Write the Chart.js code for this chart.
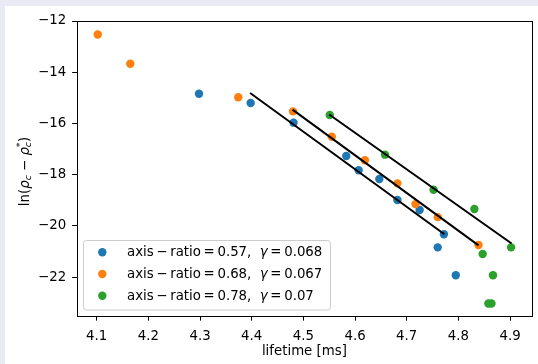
<!DOCTYPE html>
<html>
<head>
<meta charset="utf-8">
<script src="https://cdn.jsdelivr.net/npm/chart.js@4.4.0/dist/chart.umd.min.js"></script>
<style>
  html, body { margin: 0; padding: 0; background: #eaeaf5; width: 538px; height: 364px; overflow: hidden; }
  #wrap { position: absolute; left: 5px; top: 6px; width: 533px; height: 358px; background: #ffffff; }
  canvas { display: block; }
</style>
</head>
<body>
<div id="wrap"><canvas id="c" width="533" height="358"></canvas></div>
<script>
// ---- data ----
const xTicks = [4.1, 4.2, 4.3, 4.4, 4.5, 4.6, 4.7, 4.8, 4.9];
const yTicks = [-12, -14, -16, -18, -20, -22];

const seriesLabels = [
  'axis\u2009\u2212\u2009ratio\u2009=\u20090.57,  \u03B3\u2009=\u20090.068',
  'axis\u2009\u2212\u2009ratio\u2009=\u20090.68,  \u03B3\u2009=\u20090.067',
  'axis\u2009\u2212\u2009ratio\u2009=\u20090.78,  \u03B3\u2009=\u20090.07'
];
const seriesColors = ['#1f77b4', '#ff7f0e', '#2ca02c'];

const blueX = [4.298, 4.398, 4.481, 4.583, 4.607, 4.647, 4.682, 4.725, 4.772, 4.760, 4.795];
const blueY = [-14.84, -15.20, -15.97, -17.27, -17.83, -18.17, -18.99, -19.38, -20.33, -20.84, -21.93];

const orangeX = [4.102, 4.165, 4.374, 4.480, 4.555, 4.619, 4.682, 4.717, 4.760, 4.839];
const orangeY = [-12.53, -13.67, -14.98, -15.53, -16.52, -17.44, -18.34, -19.15, -19.66, -20.75];

const greenX = [4.551, 4.658, 4.752, 4.831, 4.902, 4.847, 4.867, 4.858, 4.864];
const greenY = [-15.67, -17.22, -18.59, -19.34, -20.84, -21.10, -21.93, -23.03, -23.03];

// fitted straight lines (start and end points)
const blueFitX = [4.397, 4.773];
const blueFitY = [-14.81, -20.33];
const orangeFitX = [4.479, 4.839];
const orangeFitY = [-15.46, -20.76];
const greenFitX = [4.550, 4.903];
const greenFitY = [-15.65, -20.69];

const xRange = [4.0615, 4.9425];
const yRange = [-23.52, -12];

// ---- build datasets ----
const pts = (xs, ys) => xs.map((x, i) => ({ x: x, y: ys[i] }));
const scatterSet = (i, xs, ys, order) => ({
  type: 'scatter', label: seriesLabels[i], data: pts(xs, ys),
  backgroundColor: seriesColors[i], borderWidth: 0, pointRadius: 4.2, pointHoverRadius: 4.2, order: order
});
const fitSet = (xs, ys) => ({
  type: 'line', label: '', data: pts(xs, ys), borderColor: '#000000', borderWidth: 2,
  pointRadius: 0, fill: false, order: 0, isFit: true
});

const FONT = 'DejaVu Sans';
const FS = 13.33;
const minus = v => (v < 0 ? '\u2212' + Math.abs(v) : String(v));

const frameAndText = {
  id: 'frameAndText',
  afterDraw(chart) {
    const ctx = chart.ctx, ca = chart.chartArea;
    ctx.save();
    // frame (all four spines)
    ctx.strokeStyle = '#000';
    ctx.lineWidth = 1;
    ctx.strokeRect(Math.round(ca.left) + 0.5, Math.round(ca.top) + 0.5,
                   Math.round(ca.right - ca.left), Math.round(ca.bottom - ca.top));

    // y axis title: ln(rho_c - rho_c^*)
    const big = FS + 'px "' + FONT + '"';
    const bigI = 'italic ' + FS + 'px "' + FONT + '"';
    const small = (FS * 0.7) + 'px "' + FONT + '"';
    const smallI = 'italic ' + (FS * 0.7) + 'px "' + FONT + '"';
    const segs = [
      { t: 'ln(', f: big, dy: 0 },
      { t: '\u03C1', f: bigI, dy: 0 },
      { t: 'c', f: smallI, dy: 2.4 },
      { t: ' \u2212 ', f: big, dy: 0 },
      { t: '\u03C1', f: bigI, dy: 0 },
      { t: 'c', f: smallI, dy: 2.4, stack: { t: '*', f: small, dy: -6 } },
      { t: ')', f: big, dy: 0 }
    ];
    let total = 0;
    segs.forEach(s => {
      ctx.font = s.f; s.w = ctx.measureText(s.t).width;
      if (s.stack) { ctx.font = s.stack.f; s.w = Math.max(s.w, ctx.measureText(s.stack.t).width); }
      total += s.w;
    });
    ctx.translate(18.8, (ca.top + ca.bottom) / 2 + 3);
    ctx.rotate(-Math.PI / 2);
    ctx.fillStyle = '#000';
    ctx.textBaseline = 'alphabetic';
    ctx.textAlign = 'left';
    let x = -total / 2;
    segs.forEach(s => {
      ctx.font = s.f; ctx.fillText(s.t, x, 4.8 + s.dy);
      if (s.stack) { ctx.font = s.stack.f; ctx.fillText(s.stack.t, x, 4.8 + s.stack.dy); }
      x += s.w;
    });
    ctx.restore();

    // legend box (lower left, inside plot)
    ctx.save();
    const bx = 78.5, by = 234.5, bw = 247, bh = 69.5, r = 3;
    ctx.beginPath();
    ctx.moveTo(bx + r, by); ctx.lineTo(bx + bw - r, by); ctx.quadraticCurveTo(bx + bw, by, bx + bw, by + r);
    ctx.lineTo(bx + bw, by + bh - r); ctx.quadraticCurveTo(bx + bw, by + bh, bx + bw - r, by + bh);
    ctx.lineTo(bx + r, by + bh); ctx.quadraticCurveTo(bx, by + bh, bx, by + bh - r);
    ctx.lineTo(bx, by + r); ctx.quadraticCurveTo(bx, by, bx + r, by);
    ctx.closePath();
    ctx.fillStyle = 'rgba(255,255,255,0.8)';
    ctx.fill();
    ctx.strokeStyle = '#cccccc';
    ctx.lineWidth = 1;
    ctx.stroke();
    const rows = chart.data.datasets.filter(d => !d.isFit);
    rows.forEach((d, i) => {
      const cy = 246.3 + i * 21.7;
      ctx.beginPath();
      ctx.arc(97.3, cy, 4.2, 0, Math.PI * 2);
      ctx.fillStyle = d.backgroundColor;
      ctx.fill();
      ctx.fillStyle = '#000';
      ctx.textBaseline = 'middle';
      const parts = d.label.split('\u03B3');
      let tx = 122;
      parts.forEach((p, k) => {
        if (k > 0) {
          ctx.font = bigI;
          ctx.fillText('\u03B3', tx, cy + 0.5);
          tx += ctx.measureText('\u03B3').width;
        }
        ctx.font = big;
        ctx.fillText(p, tx, cy + 0.5);
        tx += ctx.measureText(p).width;
      });
    });
    ctx.restore();
  }
};

new Chart(document.getElementById('c'), {
  data: {
    datasets: [
      fitSet(blueFitX, blueFitY),
      fitSet(orangeFitX, orangeFitY),
      fitSet(greenFitX, greenFitY),
      scatterSet(0, blueX, blueY, 3),
      scatterSet(1, orangeX, orangeY, 2),
      scatterSet(2, greenX, greenY, 1)
    ]
  },
  options: {
    responsive: false,
    animation: false,
    events: [],
    layout: { padding: { top: 15, right: 6, left: 0, bottom: 0 } },
    plugins: { legend: { display: false }, tooltip: { enabled: false } },
    scales: {
      x: {
        type: 'linear', position: 'bottom', min: xRange[0], max: xRange[1],
        afterBuildTicks: s => { s.ticks = xTicks.map(v => ({ value: v })); },
        afterFit: s => { s.height = 48; },
        grid: { drawOnChartArea: false, drawTicks: true, tickLength: 4.67, tickColor: '#000', tickWidth: 1 },
        border: { display: false },
        ticks: { color: '#000', font: { family: FONT, size: FS }, padding: 8, maxRotation: 0,
                 callback: v => v.toFixed(1) },
        title: { display: true, text: 'lifetime [ms]', color: '#000', font: { family: FONT, size: FS },
                 padding: { top: 0, bottom: 4 } }
      },
      y: {
        type: 'linear', position: 'left', min: yRange[0], max: yRange[1],
        afterBuildTicks: s => { s.ticks = yTicks.map(v => ({ value: v })); },
        afterFit: s => { s.width = 71.8; },
        grid: { drawOnChartArea: false, drawTicks: true, tickLength: 4.67, tickColor: '#000', tickWidth: 1 },
        border: { display: false },
        ticks: { color: '#000', font: { family: FONT, size: FS }, padding: 6,
                 callback: v => minus(v) }
      }
    }
  },
  plugins: [frameAndText]
});
</script>
</body>
</html>
